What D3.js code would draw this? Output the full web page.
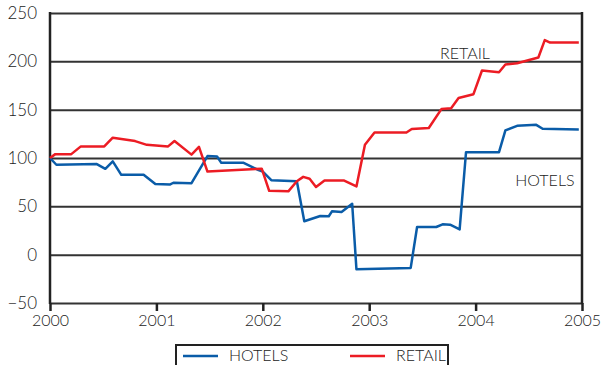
<!DOCTYPE html>
<html>
<head>
<meta charset="utf-8">
<script src="https://cdn.jsdelivr.net/npm/d3@7"></script>
<style>
  body { margin: 0; background: #fff; }
  text { font-family: Lato, "Noto Sans", sans-serif; font-weight: 300; fill: #222; }
</style>
</head>
<body>
<script>
var width  = 602;
var height = 365;

// data (year as decimal, index value)
var hotelYears  = [2000.00, 2000.06, 2000.44, 2000.52, 2000.59, 2000.67, 2000.88, 2000.99, 2001.13, 2001.16,
                   2001.33, 2001.48, 2001.57, 2001.61, 2001.82, 2001.96, 2002.00, 2002.08, 2002.32, 2002.39,
                   2002.54, 2002.62, 2002.65, 2002.74, 2002.84, 2002.88, 2003.39, 2003.45, 2003.63, 2003.69,
                   2003.76, 2003.85, 2003.91, 2004.22, 2004.28, 2004.39, 2004.57, 2004.63, 2004.97];
var hotelValues = [100, 93, 93.7, 88.8, 96.5, 82.6, 82.6, 73, 72.7, 74.4,
                   74, 102, 101.5, 95, 95, 87.5, 86, 77, 76, 34.6,
                   40, 39.7, 44.8, 44.1, 52.7, -15, -13.7, 28.6, 28.6, 31.4,
                   31, 26.2, 106, 106, 128.5, 133.3, 134.3, 130.2, 129.5];

var retailYears  = [2000.00, 2000.05, 2000.20, 2000.29, 2000.51, 2000.59, 2000.80, 2000.91, 2001.11, 2001.17,
                    2001.33, 2001.40, 2001.48, 2001.99, 2002.06, 2002.24, 2002.32, 2002.38, 2002.44, 2002.50,
                    2002.58, 2002.76, 2002.88, 2002.96, 2003.05, 2003.35, 2003.40, 2003.56, 2003.68, 2003.77,
                    2003.84, 2003.98, 2004.06, 2004.22, 2004.28, 2004.39, 2004.59, 2004.65, 2004.70, 2004.97];
var retailValues = [100, 104, 104, 112, 112, 121, 117.5, 113.6, 112, 117.5,
                    103.5, 111.5, 86, 89, 66, 65.5, 76, 80.5, 78.5, 70,
                    76.8, 76.8, 70.6, 113.6, 126.4, 126.4, 130, 131, 150.8, 151.5,
                    162, 166, 190.5, 188.7, 196.7, 198, 204, 222, 219.4, 219.4];

var yTicks = [-50, 0, 50, 100, 150, 200, 250];
var xTicks = [2000, 2001, 2002, 2003, 2004, 2005];

var seriesNames  = ['HOTELS', 'RETAIL'];
var seriesColors = ['#0a5ca8', '#ec1c24'];

var margin = { top: 13, right: 20, bottom: 62, left: 50 };
var w = width - margin.left - margin.right;
var h = height - margin.top - margin.bottom;

var svg = d3.select('body')
            .append('svg')
            .attr('width', width)
            .attr('height', height);

var g = svg.append('g')
           .attr('transform', 'translate(' + margin.left + ',' + margin.top + ')');

var x = d3.scaleLinear().domain([2000, 2005]).range([0, w]);
var y = d3.scaleLinear().domain([-50, 250]).range([h, 0]);

// horizontal gridlines + y labels
var yAxis = g.append('g')
             .call(d3.axisLeft(y).tickValues(yTicks).tickSizeInner(-w).tickSizeOuter(0).tickPadding(13));
yAxis.select('.domain').remove();
yAxis.selectAll('line').attr('stroke', '#333').attr('stroke-width', 2);
yAxis.selectAll('text').attr('font-size', '17px').attr('fill', '#222');

// x axis with downward ticks
var xAxis = g.append('g')
             .attr('transform', 'translate(0,' + h + ')')
             .call(d3.axisBottom(x).tickValues(xTicks).tickFormat(d3.format('d')).tickSizeInner(8).tickSizeOuter(0).tickPadding(4));
xAxis.select('.domain').remove();
xAxis.selectAll('line').attr('stroke', '#222').attr('stroke-width', 2.5);
xAxis.selectAll('text').attr('font-size', '16px').attr('fill', '#222');

// vertical frame lines
g.append('line').attr('x1', 0).attr('x2', 0).attr('y1', -1).attr('y2', h + 1)
 .attr('stroke', '#222').attr('stroke-width', 2.5);
g.append('line').attr('x1', w).attr('x2', w).attr('y1', -1).attr('y2', h + 1)
 .attr('stroke', '#222').attr('stroke-width', 2.5);

var line = d3.line()
             .x(function(d) { return x(d[0]); })
             .y(function(d) { return y(d[1]); });

var seriesData = [
  d3.zip(hotelYears, hotelValues),
  d3.zip(retailYears, retailValues)
];

g.selectAll('path.series')
 .data(seriesData)
 .enter()
 .append('path')
 .attr('class', 'series')
 .attr('d', line)
 .attr('fill', 'none')
 .attr('stroke', function(d, i) { return seriesColors[i]; })
 .attr('stroke-width', 2.5)
 .attr('stroke-linejoin', 'round');

// direct labels in the plot
g.append('text').text('RETAIL')
 .attr('x', x(2003.90)).attr('y', y(202)).attr('text-anchor', 'middle').attr('font-size', '16px');
g.append('text').text('HOTELS')
 .attr('x', x(2004.93)).attr('y', y(71)).attr('text-anchor', 'end').attr('font-size', '16px');

// legend box, cut off by the bottom edge
var legend = svg.append('g');
legend.append('rect')
      .attr('x', 176).attr('y', 345).attr('width', 272).attr('height', 40)
      .attr('fill', 'none').attr('stroke', '#222').attr('stroke-width', 2);

var legendX = [183, 350];
seriesNames.forEach(function(name, i) {
  legend.append('line')
        .attr('x1', legendX[i]).attr('x2', legendX[i] + 35)
        .attr('y1', 356).attr('y2', 356)
        .attr('stroke', seriesColors[i]).attr('stroke-width', 2.5);
  legend.append('text').text(name)
        .attr('x', legendX[i] + 46).attr('y', 361)
        .attr('font-size', '16px');
});
</script>
</body>
</html>
